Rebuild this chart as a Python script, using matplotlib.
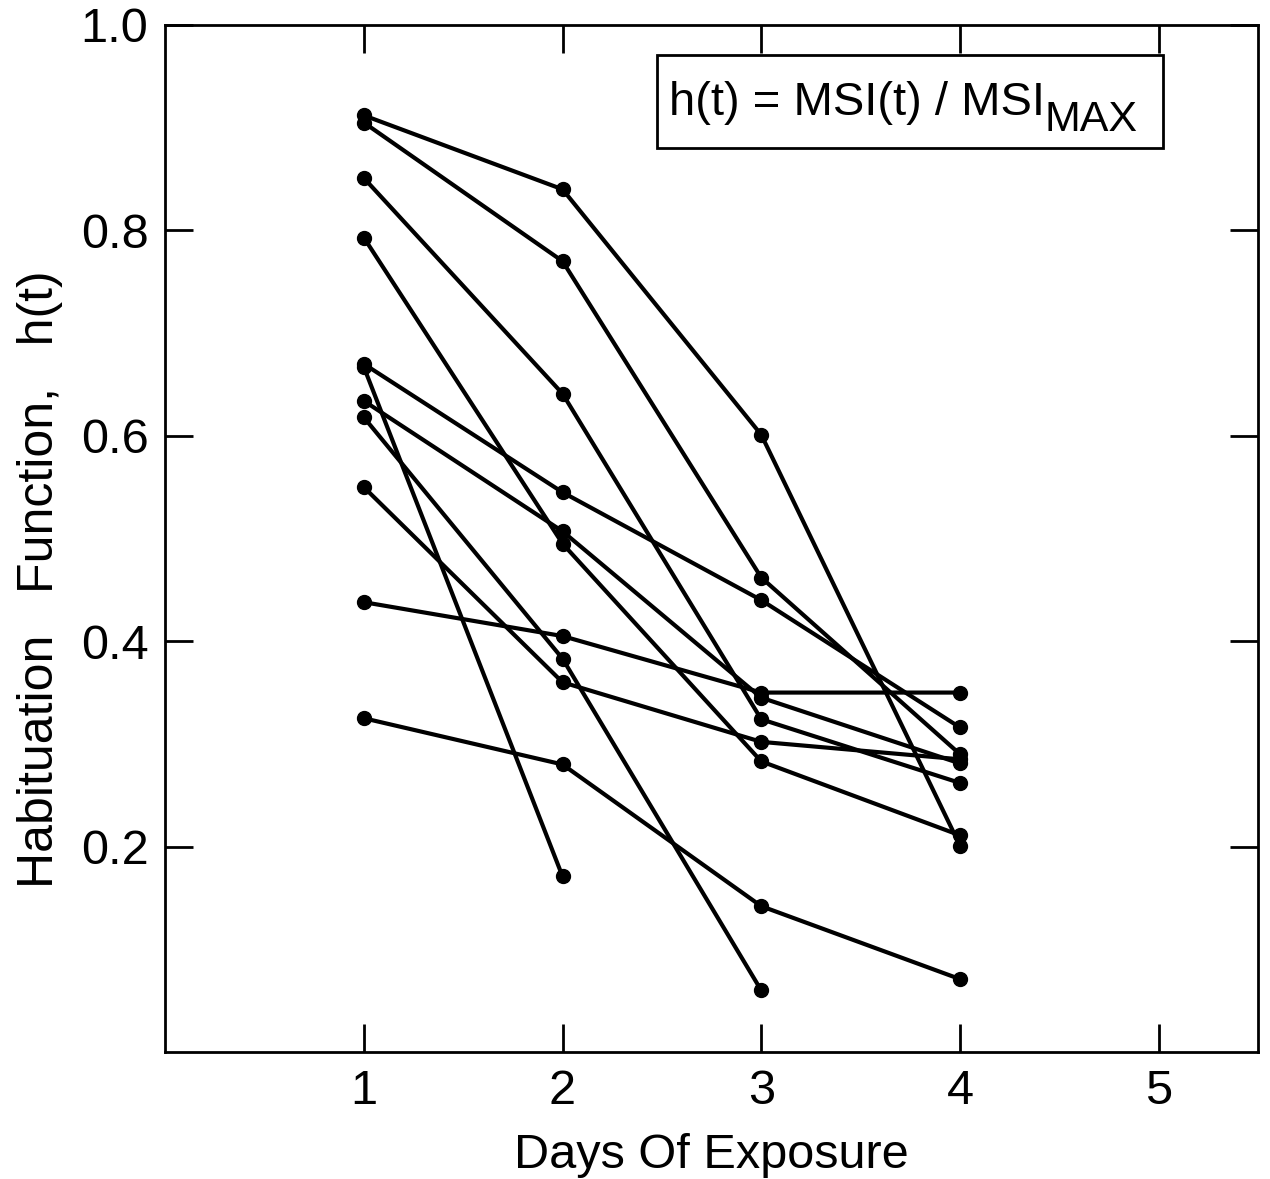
import matplotlib
matplotlib.use("Agg")
import matplotlib.pyplot as plt
from matplotlib.patches import Rectangle
from matplotlib.transforms import offset_copy

plt.rcParams['font.family'] = ['Liberation Sans', 'DejaVu Sans']

# one list per subject: h(t) on successive days (some stop early)
s01 = [0.912, 0.840, 0.601, 0.201]
s02 = [0.905, 0.770, 0.462, 0.290]
s03 = [0.851, 0.641, 0.324, 0.262]
s04 = [0.793, 0.495, 0.283, 0.211]
s05 = [0.670, 0.545, 0.440, 0.316]
s06 = [0.667, 0.171]
s07 = [0.634, 0.507, 0.345, 0.281]
s08 = [0.618, 0.383, 0.060]
s09 = [0.550, 0.360, 0.302, 0.285]
s10 = [0.438, 0.405, 0.350, 0.350]
s11 = [0.325, 0.280, 0.142, 0.071]
subjects = [s01, s02, s03, s04, s05, s06, s07, s08, s09, s10, s11]

x_ticks = [1, 2, 3, 4, 5]
y_ticks = [0.2, 0.4, 0.6, 0.8, 1.0]

fig = plt.figure(figsize=(12.7, 11.79), dpi=100)
ax = fig.add_axes([0.130, 0.1077, 0.8606, 0.8711])

for vals in subjects:
    days = list(range(1, len(vals) + 1))
    ax.plot(days, vals, color='black', lw=3.0, marker='o', ms=10,
            solid_capstyle='round')

ax.set_xlim(0, 5.5)
ax.set_ylim(0, 1.0)
ax.set_xticks(x_ticks)
ax.set_yticks(y_ticks)
ax.set_yticklabels([f"{v:.1f}" for v in y_ticks])

for sp in ax.spines.values():
    sp.set_linewidth(2)

ax.tick_params(axis='both', direction='in', length=20, width=2,
               top=True, right=True, labelsize=35)
ax.tick_params(axis='x', pad=12)
ax.tick_params(axis='y', pad=12)

ax.set_xlabel("Days Of Exposure", fontsize=35, labelpad=14)
ax.set_ylabel("Habituation   Function,   h(t)", fontsize=36)
ax.yaxis.set_label_coords(-0.093, 0.46)

# formula box
ax.add_patch(Rectangle((0.450, 0.880), 0.463, 0.091, transform=ax.transAxes,
                       fill=False, edgecolor='black', lw=2))
main = ax.text(0.4608, 0.912, "h(t) = MSI(t) / MSI", transform=ax.transAxes,
               ha='left', va='baseline', fontsize=34)
fig.canvas.draw()
bb = main.get_window_extent().transformed(ax.transAxes.inverted())
ax.text(bb.x1, 0.912,  "MAX",
        transform=offset_copy(ax.transAxes, fig=fig, x=0, y=-11, units='points'),
        ha='left', va='baseline', fontsize=31)

fig.savefig("out.png", dpi=100)
